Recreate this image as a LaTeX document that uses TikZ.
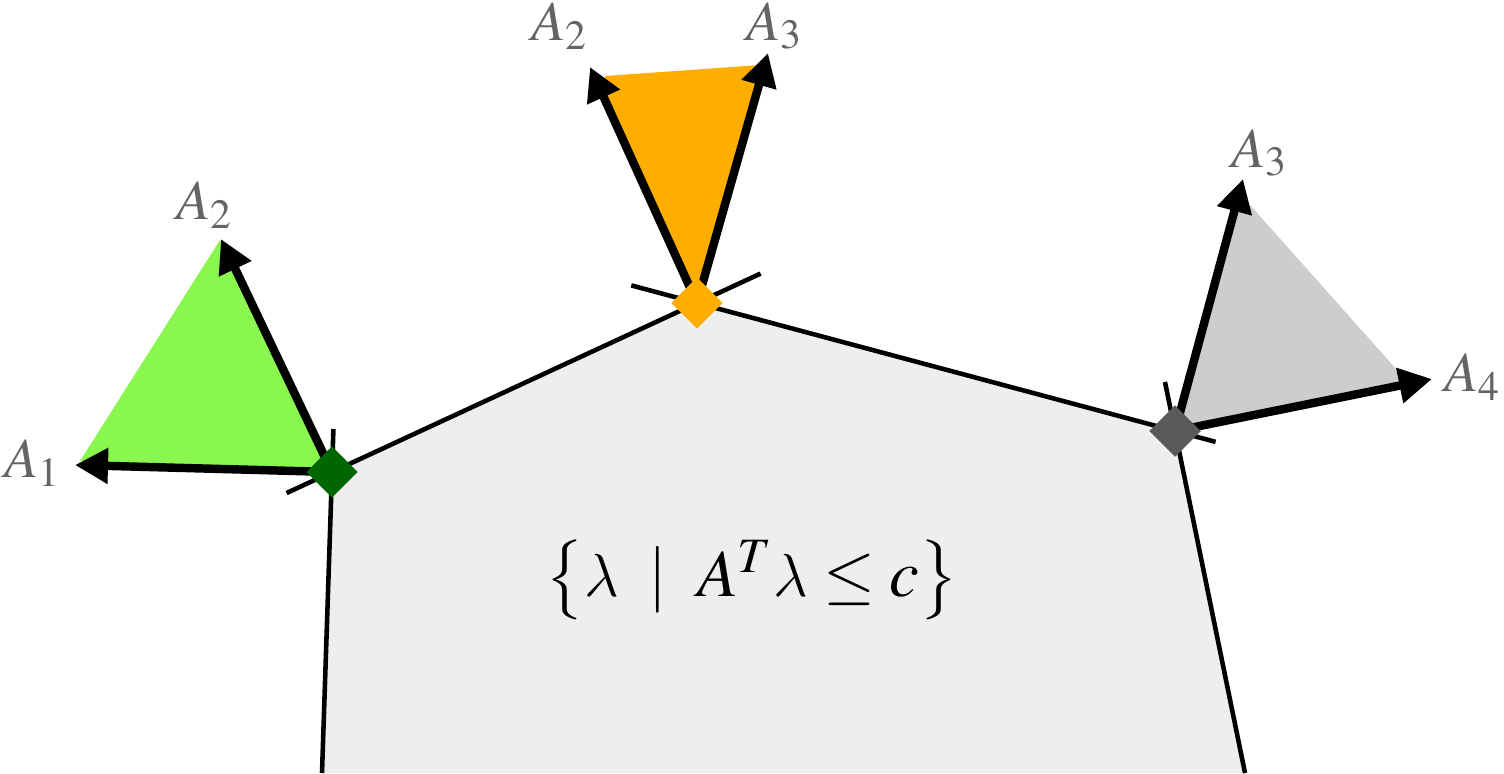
\documentclass[tikz,border=0pt]{standalone}
\usepackage{amsmath}
\usepackage{mathptmx}
\DeclareSymbolFont{cmletters}{OML}{cmm}{m}{it}
\DeclareMathSymbol{\lambda}{\mathord}{cmletters}{"15}
\usepackage{tikz}
\usetikzlibrary{arrows.meta, shapes.geometric, positioning, calc}
\definecolor{conegreen}{RGB}{137,247,80}
\definecolor{vertgreen}{RGB}{0,102,0}
\definecolor{coneorange}{RGB}{253,174,0}
\definecolor{conegray}{RGB}{205,205,205}
\definecolor{vertgray}{RGB}{90,90,90}
\definecolor{polyfill}{RGB}{238,238,238}
\definecolor{labelgray}{RGB}{100,100,100}

\begin{document}
\begin{tikzpicture}[x=0.01cm, y=-0.01cm,
	>={Triangle[length=0.33cm, width=0.34cm]},
	edge/.style={line width=1.3pt},
	normal/.style={->, line width=2.4pt},
	vert/.style={diamond, minimum size=0.52cm, inner sep=0pt},
	lbl/.style={text=labelgray, font=\fontsize{16}{19}\selectfont}
	]
	\useasboundingbox (0,0) rectangle (1504,773);
	% Vertices
	\coordinate (BL) at (322,773);
	\coordinate (V1) at (332,472);
	\coordinate (V2) at (697,303);
	\coordinate (V3) at (1175,431);
	\coordinate (BR) at (1245,773);
	% Arrow tips
	\coordinate (g1) at (75,465);
	\coordinate (g2) at (221,239);
	\coordinate (o2) at (590,67);
	\coordinate (o3) at (768,53);
	\coordinate (s3) at (1243,179);
	\coordinate (s4) at (1432,379);
	% Polyhedron and cones
	\fill[polyfill] (BL) -- (V1) -- (V2) -- (V3) -- (BR) -- cycle;
	\fill[conegreen] (V1) -- (80,461) -- (220,240) -- cycle;
	\fill[coneorange] (V2) -- ($(V2)!0.87!(o2)$) -- (605,76) -- (760,65)
		-- ($(V2)!0.87!(o3)$) -- cycle;
	\fill[conegray] (V3) -- ($(V3)!0.87!(s3)$) -- (1250,205) -- (1397,370)
		-- ($(V3)!0.87!(s4)$) -- cycle;
	% Edges
	\draw[edge, shorten <=-0.43cm] (V1) -- (BL);
	\draw[edge, shorten <=-0.5cm, shorten >=-0.7cm] (V1) -- (V2);
	\draw[edge, shorten <=-0.68cm, shorten >=-0.42cm] (V2) -- (V3);
	\draw[edge, shorten <=-0.5cm] (V3) -- (BR);
	% Normals
	\draw[normal] (V1) -- (g1);
	\draw[normal] (V1) -- (g2);
	\draw[normal] (V2) -- (o2);
	\draw[normal] (V2) -- (o3);
	\draw[normal] (V3) -- (s3);
	\draw[normal] (V3) -- (s4);
	% Vertices marks
	\node[vert, fill=vertgreen] (d1) at (V1) {};
	\node[vert, fill=coneorange] (d2) at (V2) {};
	\node[vert, fill=vertgray] (d3) at (V3) {};
	% Labels
	\node[lbl] (lg1) at (33,463) {$A_1$};
	\node[lbl] (lg2) at (205,205) {$A_2$};
	\node[lbl] (lo2) at (560,26) {$A_2$};
	\node[lbl] (lo3) at (775,26) {$A_3$};
	\node[lbl] (ls3) at (1260,153) {$A_3$};
	\node[lbl] (ls4) at (1473,377) {$A_4$};
	\node[font=\fontsize{19}{24}\selectfont] (set) at (752,580)
		{$\bigl\{\lambda \;\mid\; A^T\lambda \le c\bigr\}$};
\end{tikzpicture}
\end{document}
